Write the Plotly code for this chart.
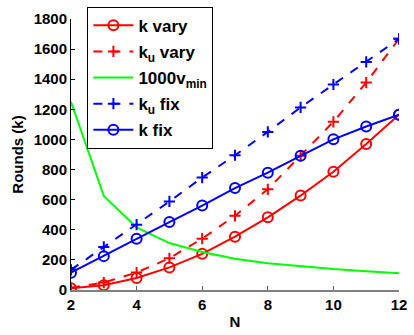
import plotly.graph_objects as go

N = [2, 3, 4, 5, 6, 7, 8, 9, 10, 11, 12]
k_vary = [11, 32, 80, 150, 240, 354, 483, 627, 785, 969, 1164]
ku_vary = [15, 49, 116, 211, 341, 493, 669, 891, 1117, 1378, 1668]
v_min_1000 = [1250, 625, 415, 312, 252, 208, 178, 157, 139, 125, 112]
ku_fix = [134, 286, 434, 588, 747, 895, 1050, 1213, 1365, 1515, 1668]
k_fix = [115, 225, 340, 451, 561, 677, 779, 891, 1001, 1086, 1164]

RED = "#ff0000"
BLUE = "#0000ff"
GREEN = "#00ff00"

fig = go.Figure()
fig.add_trace(go.Scatter(x=N, y=k_vary, name="k vary", mode="lines+markers", legendgroup="a",
                         line=dict(color=RED, width=2),
                         marker=dict(symbol="circle-open", size=10, color=RED, line=dict(width=2))))
fig.add_trace(go.Scatter(x=N, y=ku_vary, name="k<sub>u</sub> vary", mode="lines+markers", legendgroup="b",
                         line=dict(color=RED, width=2, dash="dash"),
                         marker=dict(symbol="cross-thin-open", size=8, color=RED, line=dict(width=2, color=RED))))
fig.add_trace(go.Scatter(x=N, y=v_min_1000, name="1000v<sub>min</sub>", mode="lines", legendgroup="c",
                         line=dict(color=GREEN, width=2)))
fig.add_trace(go.Scatter(x=N, y=ku_fix, name="k<sub>u</sub> fix", mode="lines+markers", legendgroup="d",
                         line=dict(color=BLUE, width=2, dash="dash"),
                         marker=dict(symbol="cross-thin-open", size=8, color=BLUE, line=dict(width=2, color=BLUE))))
fig.add_trace(go.Scatter(x=N, y=k_fix, name="k fix", mode="lines+markers", legendgroup="e",
                         line=dict(color=BLUE, width=2),
                         marker=dict(symbol="circle-open", size=10, color=BLUE, line=dict(width=2))))

font_bold = dict(family="Liberation Sans, Arial, sans-serif", size=15, color="black", weight="bold")

fig.update_layout(
    width=414, height=335,
    margin=dict(l=71, r=7, t=8, b=44),
    paper_bgcolor="white", plot_bgcolor="white",
    font=font_bold,
    showlegend=True,
    legend=dict(x=0.05, y=1.045, xanchor="left", yanchor="top",
                bgcolor="white", bordercolor="black", borderwidth=1,
                font=dict(family="Liberation Sans, Arial, sans-serif", size=17, color="black", weight="bold"),
                tracegroupgap=1, itemwidth=40),
    xaxis=dict(range=[2, 12], tickvals=[2, 4, 6, 8, 10, 12], showgrid=False, zeroline=False,
               showline=True, linecolor="#808080", linewidth=2, ticks="inside", ticklen=4,
               tickcolor="#606060", tickwidth=1, ticklabeloverflow="allow",
               title=dict(text="N", font=font_bold, standoff=4)),
    yaxis=dict(range=[0, 1800], tickvals=list(range(0, 1801, 200)), showgrid=False, zeroline=False,
               showline=True, linecolor="black", linewidth=1, ticks="inside", ticklen=4,
               tickcolor="black", ticklabeloverflow="allow",
               title=dict(text="Rounds (k)", font=font_bold, standoff=6)),
)

fig.write_html("out.html", config={"displayModeBar": False},
               post_script="document.body.style.margin='0';document.body.style.overflow='hidden';")
